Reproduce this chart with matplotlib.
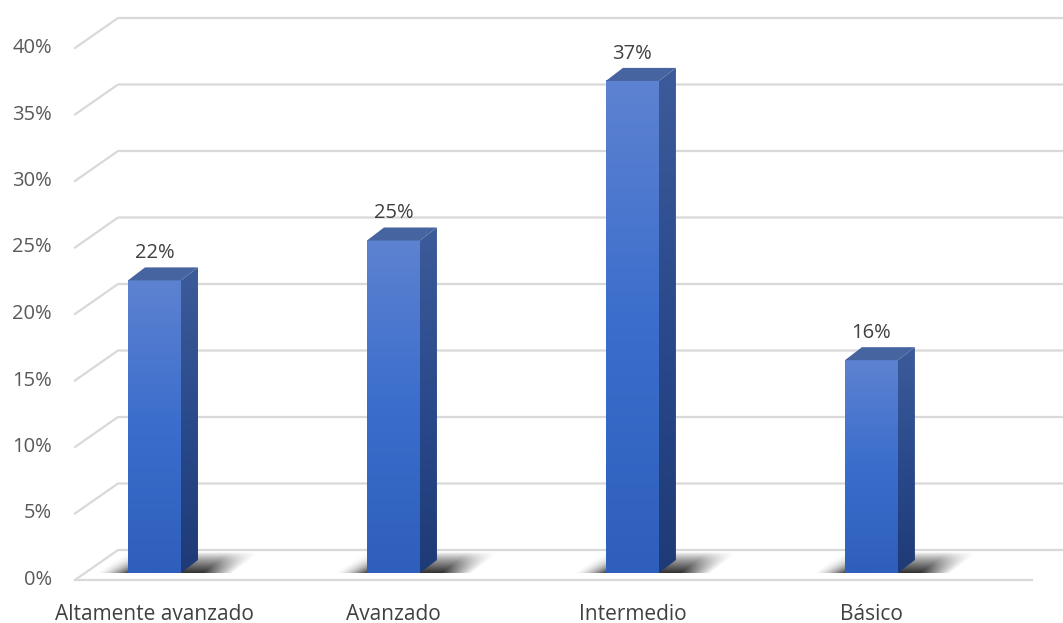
import matplotlib.pyplot as plt
import numpy as np
from matplotlib.colors import LinearSegmentedColormap
from matplotlib.patches import Polygon

categories = ['Altamente avanzado', 'Avanzado', 'Intermedio', 'Básico']
values = [0.22, 0.25, 0.37, 0.16]
ticks = [0, 0.05, 0.10, 0.15, 0.20, 0.25, 0.30, 0.35, 0.40]
tick_labels = ['0%', '5%', '10%', '15%', '20%', '25%', '30%', '35%', '40%']

plt.rcParams['font.family'] = ['Open Sans', 'DejaVu Sans']

fig = plt.figure(figsize=(10.63, 6.23), dpi=100)
ax = fig.add_axes([75/1063, 50/623, 957/1063, 532/623])
x0, x1 = -0.3326, 3.672
ax.set_xlim(x0, x1)
ax.set_ylim(0, 0.40)
ax.axis('off')

# one pixel in data units
ux = (x1 - x0) / 957
uy = 0.40 / 532

grid_c = '#d9d9d9'
for v, lab in zip(ticks, tick_labels):
    ax.plot([x0, x0 + 43*ux, x0 + 1000*ux], [v - 7*uy, v + 23*uy, v + 23*uy],
            color=grid_c, lw=1.6, clip_on=False, zorder=1)
    ax.text(x0 - 23*ux, v - 7*uy, lab, ha='right', va='center',
            fontsize=14.5, color='#595959')
ax.plot([x0, x0 + 957*ux], [-7*uy, -7*uy], color=grid_c, lw=1.6,
        clip_on=False, zorder=1)

front_cmap = LinearSegmentedColormap.from_list('f', ['#5d82d1', '#3a6dcc', '#2f5fbd'])
side_cmap = LinearSegmentedColormap.from_list('s', ['#3d5b9a', '#2a4a8c', '#1f3b77'])

w = 53*ux
dx, dy = 17*ux, 13*uy

# shadow shape in pixels, relative to the bar's bottom-left corner
sp_l, sp_r, sp_h = -40, 53 + 85, 22
px = np.arange(sp_l, sp_r) + 0.5
py = np.arange(sp_h, 0, -1) - 0.5
PX, PY = np.meshgrid(px, py)
S = PX - PY * 1.35
fx = np.clip((S + 34) / 34, 0, 1) ** 1.6 * np.clip((53 + 50 - S) / 30, 0, 1)
fy = np.clip(1 - PY / sp_h, 0, 1) ** 0.8
shadow = np.zeros(PX.shape + (4,))
shadow[..., 3] = fx * fy * 0.85

for i, (cat, v) in enumerate(zip(categories, values)):
    left, right = i - w/2, i + w/2

    ax.imshow(shadow, extent=[left + sp_l*ux, left + sp_r*ux, -1*uy, (sp_h - 1)*uy],
              aspect='auto', zorder=2, interpolation='bilinear')

    # front face with vertical gradient
    grad = np.linspace(0, 1, 100).reshape(-1, 1)
    ax.imshow(grad, extent=[left, right, 0, v], aspect='auto', cmap=front_cmap,
              origin='upper', zorder=3)

    # side face
    side = Polygon([(right, 0), (right + dx, dy), (right + dx, v + dy), (right, v)],
                   closed=True, facecolor='none', edgecolor='none')
    ax.add_patch(side)
    im = ax.imshow(grad, extent=[right, right + dx, 0, v + dy], aspect='auto',
                   cmap=side_cmap, origin='upper', zorder=3)
    im.set_clip_path(side)

    # top face
    ax.add_patch(Polygon([(left, v), (right, v), (right + dx, v + dy), (left + dx, v + dy)],
                         closed=True, facecolor='#46649f', edgecolor='none', zorder=4))

    ax.text(i, v + 27*uy, f'{round(v*100)}%', ha='center', va='center',
            fontsize=14.5, color='#404040')
    ax.text(i, -41*uy, cat, ha='center', va='center', fontsize=15, color='#404040')

ax.set_xlim(x0, x1)
ax.set_ylim(0, 0.40)

fig.savefig('out.png', dpi=100)
